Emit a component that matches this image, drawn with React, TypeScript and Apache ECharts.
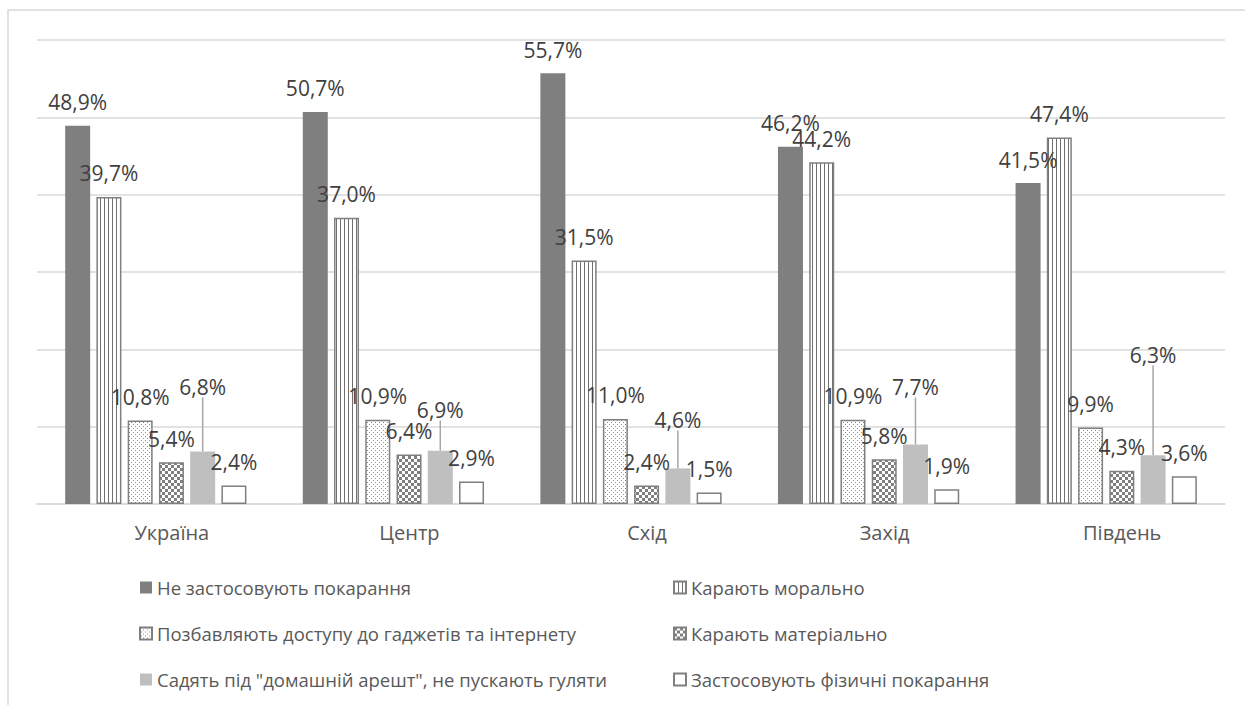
import React, { useEffect, useRef } from "react";
import * as echarts from "echarts";

const categories = ["Україна", "Центр", "Схід", "Захід", "Південь"];
const seriesNames = [
  "Не застосовують покарання",
  "Карають морально",
  "Позбавляють доступу до гаджетів та інтернету",
  "Карають матеріально",
  'Садять під "домашній арешт", не пускають гуляти',
  "Застосовують фізичні покарання",
];
const noPunishment = [48.9, 50.7, 55.7, 46.2, 41.5];
const moral = [39.7, 37.0, 31.5, 44.2, 47.4];
const gadgets = [10.8, 10.9, 11.0, 10.9, 9.9];
const material = [5.4, 6.4, 2.4, 5.8, 4.3];
const houseArrest = [6.8, 6.9, 4.6, 7.7, 6.3];
const physical = [2.4, 2.9, 1.5, 1.9, 3.6];

// extra upward shift (px) of the moved labels of the "house arrest" series
const houseArrestLabelLift = [41, 17, 25, 34, 77];

const fmt = (p: any) => String(p.value.toFixed(1)).replace(".", ",") + "%";

function makePattern(w: number, h: number, draw: (ctx: CanvasRenderingContext2D) => void) {
  const c = document.createElement("canvas");
  c.width = w;
  c.height = h;
  const ctx = c.getContext("2d") as CanvasRenderingContext2D;
  ctx.fillStyle = "#ffffff";
  ctx.fillRect(0, 0, w, h);
  draw(ctx);
  return { image: c, repeat: "repeat", imageWidth: w, imageHeight: h };
}

export default function App() {
  const ref = useRef<HTMLDivElement>(null);
  useEffect(() => {
    if (!ref.current) return;
    const chart = echarts.init(ref.current, null, { renderer: "svg" });

    const stripes = makePattern(4, 4, (ctx) => {
      ctx.fillStyle = "#707070";
      ctx.fillRect(0, 0, 1, 4);
    });
    const dots = makePattern(4, 4, (ctx) => {
      ctx.fillStyle = "#8c8c8c";
      ctx.fillRect(1, 0, 1, 1);
      ctx.fillRect(3, 2, 1, 1);
    });
    const checks = makePattern(6, 6, (ctx) => {
      ctx.fillStyle = "#7f7f7f";
      ctx.fillRect(0, 0, 3, 3);
      ctx.fillRect(3, 3, 3, 3);
    });

    const labelBase = {
      show: true,
      position: "top",
      distance: 13,
      color: "#404040",
      fontSize: 21,
      fontFamily: "Open Sans",
      formatter: fmt,
    };
    const border = { borderColor: "#7f7f7f", borderWidth: 1.5 };

    const values = [noPunishment, moral, gadgets, material, houseArrest, physical];
    const styles: any[] = [
      { color: "#7f7f7f" },
      { color: stripes, ...border },
      { color: dots, ...border },
      { color: checks, ...border },
      { color: "#bfbfbf" },
      { color: "#ffffff", ...border },
    ];

    const series = values.map((v, i) => {
      const s: any = {
        type: "bar",
        name: seriesNames[i],
        data: v,
        barWidth: 25,
        barGap: "25%",
        itemStyle: styles[i],
        label: labelBase,
      };
      if (i === 4) {
        s.labelLayout = (params: any) => ({ dy: -houseArrestLabelLift[params.dataIndex] });
        s.labelLine = { show: true, lineStyle: { color: "#a6a6a6", width: 1.5 } };
      }
      return s;
    });

    const legendBase = {
      orient: "vertical",
      top: 572,
      itemWidth: 12,
      itemHeight: 12,
      itemGap: 25,
      icon: "rect",
      textStyle: { color: "#595959", fontSize: 18.5, fontFamily: "Open Sans", lineHeight: 21 },
    };

    chart.setOption({
      animation: false,
      backgroundColor: "#ffffff",
      textStyle: { fontFamily: "Open Sans" },
      graphic: [
        {
          type: "rect",
          silent: true,
          z: -10,
          shape: { x: 8, y: 10, width: 1300, height: 800 },
          style: { fill: "none", stroke: "#d9d9d9", lineWidth: 1.5 },
        },
      ],
      grid: { left: 37, right: 20, top: 40, bottom: 201 },
      xAxis: {
        type: "category",
        data: categories,
        axisLine: { lineStyle: { color: "#d9d9d9", width: 1.5 } },
        axisTick: { show: false },
        axisLabel: {
          color: "#595959",
          fontSize: 20,
          fontFamily: "Open Sans",
          margin: 18,
          padding: [0, 0, 0, 32],
        },
      },
      yAxis: {
        type: "value",
        min: 0,
        max: 60,
        interval: 10,
        axisLabel: { show: false },
        axisLine: { show: false },
        axisTick: { show: false },
        splitLine: { lineStyle: { color: "#d9d9d9", width: 1.5 } },
      },
      legend: [
        { ...legendBase, left: 134, data: [seriesNames[0], seriesNames[2], seriesNames[4]] },
        { ...legendBase, left: 668, data: [seriesNames[1], seriesNames[3], seriesNames[5]] },
      ],
      series,
    });
    return () => chart.dispose();
  }, []);
  return (
    <div
      ref={ref}
      style={{ position: "fixed", left: 0, top: 0, width: 1245, height: 705 }}
    />
  );
}
